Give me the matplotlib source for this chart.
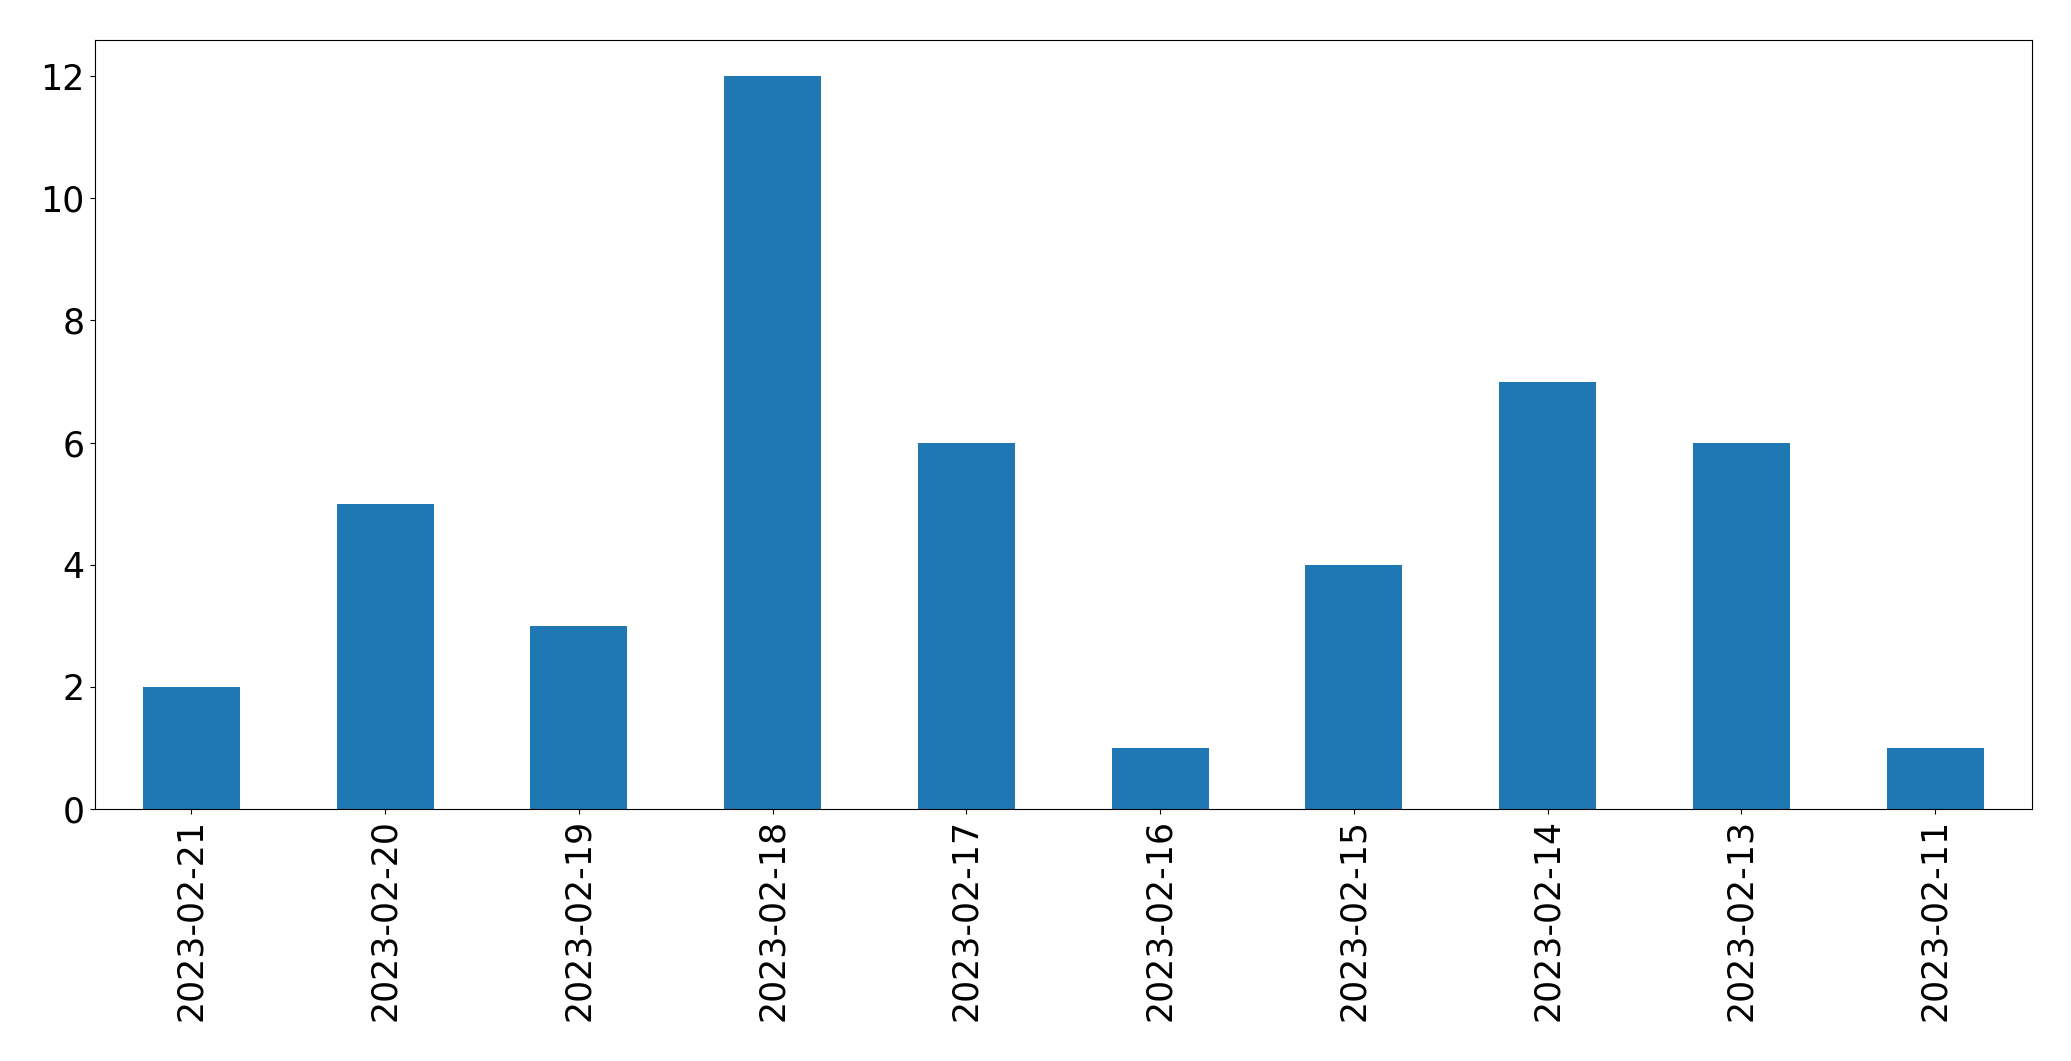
import matplotlib
matplotlib.use("Agg")
import matplotlib.pyplot as plt
import pandas as pd

dates = ["2023-02-21", "2023-02-20", "2023-02-19", "2023-02-18", "2023-02-17",
         "2023-02-16", "2023-02-15", "2023-02-14", "2023-02-13", "2023-02-11"]
counts = [2, 5, 3, 12, 6, 1, 4, 7, 6, 1]

fig = plt.figure(figsize=(20.71, 10.61), dpi=100)
left, right, top, bottom = 94.5, 2032.0, 39.5, 809.0
ax = fig.add_axes([left/2071, 1 - bottom/1061, (right-left)/2071, (bottom-top)/1061])
s = pd.Series(counts, index=dates)
s.plot.bar(ax=ax, color="#1f77b4")
ax.tick_params(axis="both", labelsize=25)
fig.savefig("out.png", dpi=100)
